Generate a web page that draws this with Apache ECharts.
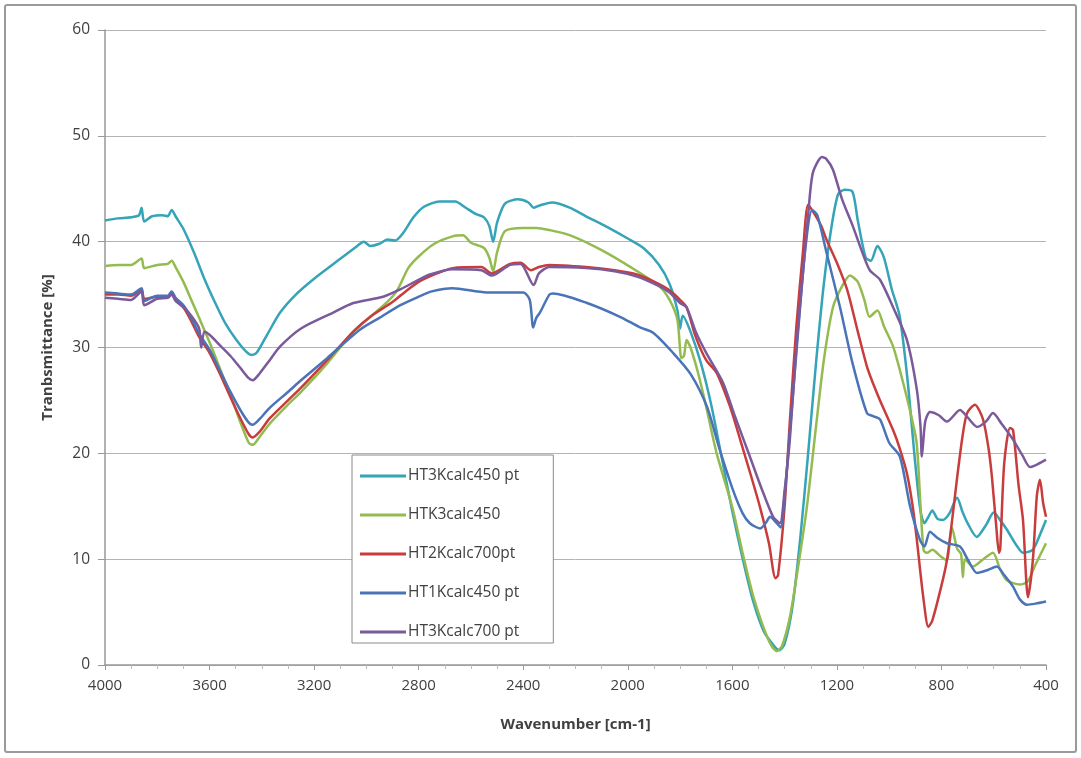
<!DOCTYPE html>
<html>
<head>
<meta charset="utf-8">
<script src="https://cdn.jsdelivr.net/npm/echarts@6/dist/echarts.min.js"></script>
<style>html,body{margin:0;padding:0;background:#fff;}#c{width:1081px;height:758px;}</style>
</head>
<body>
<div id="c"></div>
<script>
const seriesNames = ['HT3Kcalc450 pt', 'HTK3calc450', 'HT2Kcalc700pt', 'HT1Kcalc450 pt', 'HT3Kcalc700 pt'];
const xTicks = { min: 400, max: 4000, step: 400 };
const yTicks = { min: 0, max: 60, step: 10 };

const ht3k450 = [[4000,42.0],[3950,42.2],[3900,42.3],[3870,42.5],[3860,43.2],[3850,41.9],[3820,42.4],[3780,42.5],[3760,42.4],[3745,43.0],[3730,42.4],[3700,41.2],[3660,39.0],[3620,36.5],[3580,34.3],[3540,32.3],[3500,30.8],[3460,29.6],[3440,29.3],[3420,29.5],[3380,31.2],[3330,33.3],[3270,35.0],[3200,36.5],[3120,38.0],[3040,39.5],[3010,40.0],[2985,39.6],[2950,39.8],[2920,40.2],[2890,40.1],[2860,40.8],[2820,42.3],[2780,43.3],[2720,43.8],[2660,43.8],[2620,43.2],[2580,42.6],[2550,42.3],[2530,41.5],[2515,40.0],[2500,41.8],[2470,43.6],[2420,44.0],[2380,43.7],[2360,43.2],[2340,43.4],[2290,43.7],[2220,43.2],[2160,42.4],[2080,41.4],[2000,40.3],[1940,39.4],[1880,37.8],[1840,36.0],[1810,33.5],[1800,31.8],[1790,33.0],[1760,31.5],[1720,28.5],[1680,24.5],[1640,19.5],[1600,14.5],[1560,10.0],[1520,6.0],[1480,3.2],[1440,1.8],[1420,1.4],[1400,2.0],[1370,5.5],[1340,12.0],[1310,20.0],[1280,28.5],[1250,36.0],[1220,41.5],[1195,44.5],[1170,44.9],[1140,44.7],[1120,42.0],[1090,38.5],[1070,38.2],[1045,39.6],[1020,38.5],[990,35.5],[960,33.0],[930,27.0],[900,19.0],[880,14.5],[865,13.4],[850,14.0],[835,14.6],[815,13.8],[795,13.7],[770,14.3],[740,15.8],[720,14.5],[700,13.4],[665,12.1],[630,13.2],[600,14.4],[570,13.5],[550,12.8],[510,11.2],[488,10.6],[450,10.9],[420,12.5],[400,13.7]];

const htk3450 = [[4000,37.7],[3950,37.8],[3900,37.8],[3860,38.4],[3850,37.5],[3800,37.8],[3760,37.9],[3745,38.2],[3730,37.6],[3700,36.2],[3670,34.5],[3640,32.8],[3600,30.5],[3560,28.0],[3520,25.5],[3480,22.8],[3450,21.0],[3435,20.8],[3410,21.5],[3370,22.8],[3300,24.6],[3250,25.8],[3150,28.5],[3050,31.5],[2980,33.0],[2920,34.3],[2880,35.5],[2840,37.5],[2800,38.6],[2740,39.8],[2670,40.5],[2630,40.6],[2600,39.9],[2550,39.4],[2530,38.5],[2515,37.2],[2500,39.0],[2470,41.0],[2400,41.3],[2350,41.3],[2300,41.1],[2220,40.6],[2100,39.2],[1970,37.3],[1880,35.8],[1840,34.5],[1810,32.6],[1795,29.0],[1785,29.2],[1775,30.7],[1760,30.0],[1730,27.5],[1700,24.4],[1660,20.0],[1600,14.9],[1560,10.5],[1520,6.5],[1480,3.5],[1450,1.8],[1430,1.3],[1410,1.8],[1380,4.5],[1350,9.0],[1315,14.9],[1280,22.5],[1250,28.8],[1215,33.8],[1180,35.8],[1150,36.8],[1120,36.2],[1095,34.5],[1075,32.9],[1045,33.5],[1020,32.0],[985,30.1],[950,27.0],[920,24.0],[895,21.0],[880,15.0],[868,10.8],[855,10.6],[835,10.9],[800,10.2],[780,9.9],[760,13.0],[740,11.0],[725,10.5],[718,8.3],[710,10.0],[680,9.3],[640,10.0],[603,10.6],[575,9.0],[550,8.0],[500,7.6],[470,7.9],[440,9.5],[400,11.5]];

const ht2k700 = [[4000,35.0],[3950,35.0],[3900,34.9],[3860,35.4],[3850,34.6],[3800,34.8],[3760,34.8],[3745,35.2],[3730,34.6],[3700,33.8],[3670,32.5],[3640,31.0],[3600,29.5],[3560,27.5],[3520,25.3],[3480,23.2],[3450,21.8],[3435,21.5],[3410,22.0],[3370,23.3],[3300,25.0],[3250,26.2],[3150,28.8],[3050,31.5],[2980,33.0],[2900,34.3],[2850,35.3],[2800,36.2],[2730,37.0],[2670,37.5],[2560,37.6],[2520,37.0],[2500,37.2],[2450,37.9],[2410,38.0],[2370,37.3],[2340,37.6],[2300,37.8],[2160,37.6],[2050,37.3],[1965,36.9],[1880,36.0],[1840,35.4],[1800,34.5],[1775,33.8],[1740,31.0],[1700,28.8],[1660,27.6],[1610,24.5],[1570,21.3],[1530,18.0],[1494,14.9],[1460,11.5],[1435,8.2],[1425,8.5],[1400,15.0],[1380,23.0],[1355,32.0],[1330,39.0],[1310,43.5],[1290,42.8],[1260,41.5],[1240,40.2],[1200,38.0],[1160,35.4],[1120,31.5],[1085,28.2],[1060,26.5],[1035,25.0],[985,22.2],[960,20.5],[932,18.1],[910,15.0],[894,11.8],[870,6.5],[850,3.6],[835,4.2],[800,7.5],[779,9.9],[760,13.5],[741,17.5],[720,21.5],[702,23.8],[672,24.6],[641,23.2],[620,20.5],[607,17.8],[590,13.0],[580,10.6],[575,11.0],[560,19.0],[538,22.4],[526,22.2],[505,17.0],[488,13.7],[469,6.4],[450,10.0],[435,16.0],[423,17.5],[411,15.3],[400,14.0]];

const ht1k450 = [[4000,35.2],[3950,35.1],[3900,35.0],[3860,35.6],[3850,34.4],[3800,34.9],[3760,34.9],[3745,35.3],[3730,34.7],[3700,34.0],[3670,32.8],[3640,31.3],[3600,29.8],[3560,27.8],[3520,25.8],[3480,24.0],[3450,22.9],[3435,22.7],[3410,23.2],[3370,24.3],[3300,25.8],[3250,26.9],[3150,29.0],[3024,31.7],[2950,32.8],[2870,34.0],[2800,34.8],[2750,35.3],[2670,35.6],[2540,35.2],[2400,35.2],[2375,34.5],[2362,31.9],[2350,32.8],[2336,33.3],[2300,35.0],[2286,35.1],[2156,34.2],[2030,32.9],[1953,31.9],[1903,31.4],[1827,29.5],[1760,27.5],[1697,24.4],[1650,20.5],[1597,16.5],[1560,14.3],[1533,13.4],[1494,12.9],[1470,13.5],[1456,14.0],[1430,13.4],[1415,13.0],[1400,16.0],[1380,22.0],[1350,31.0],[1320,39.5],[1295,43.0],[1275,42.5],[1240,39.0],[1188,33.8],[1140,28.5],[1085,23.8],[1060,23.5],[1035,23.2],[1000,21.0],[959,19.7],[920,15.0],[882,11.8],[865,11.2],[844,12.6],[815,12.0],[779,11.5],[729,11.2],[700,10.0],[664,8.7],[620,9.0],[588,9.3],[560,8.5],[526,7.4],[500,6.2],[473,5.7],[440,5.8],[400,6.0]];

const ht3k700 = [[4000,34.7],[3950,34.6],[3900,34.5],[3860,35.3],[3850,34.0],[3800,34.6],[3760,34.7],[3745,35.0],[3730,34.4],[3700,33.8],[3670,33.0],[3640,31.8],[3632,30.0],[3620,31.5],[3600,31.2],[3560,30.2],[3520,29.2],[3480,28.0],[3450,27.1],[3435,26.9],[3410,27.5],[3370,28.8],[3330,30.1],[3250,31.8],[3127,33.3],[3050,34.2],[2936,34.8],[2870,35.5],[2800,36.4],[2757,36.9],[2670,37.4],[2560,37.3],[2520,36.8],[2500,37.0],[2450,37.8],[2410,37.9],[2360,35.9],[2340,37.0],[2300,37.6],[2160,37.5],[2050,37.2],[1965,36.7],[1880,35.8],[1840,35.2],[1800,34.2],[1775,33.8],[1740,31.5],[1700,29.5],[1636,26.7],[1590,23.5],[1533,19.7],[1490,16.8],[1444,14.0],[1418,13.4],[1400,16.5],[1380,21.3],[1355,30.0],[1330,37.0],[1310,42.5],[1292,46.5],[1257,48.0],[1240,47.8],[1215,46.8],[1180,44.0],[1138,41.4],[1100,38.8],[1074,37.3],[1035,36.4],[985,33.8],[932,30.7],[894,26.0],[880,22.5],[875,19.7],[862,23.0],[844,23.9],[810,23.6],[779,23.0],[729,24.1],[700,23.4],[664,22.5],[630,23.0],[603,23.8],[570,22.8],[526,21.3],[490,19.8],[461,18.7],[430,19.0],[400,19.4]];

const seriesData = [ht3k450, htk3450, ht2k700, ht1k450, ht3k700];
const colors = ['#35a3b8', '#94bb50', '#c83c3c', '#4a73b8', '#7a5a9a'];

const chart = echarts.init(document.getElementById('c'), null, { renderer: 'canvas' });
const font = 'Open Sans, Noto Sans, sans-serif';
chart.setOption({
  backgroundColor: '#ffffff',
  animation: false,
  color: colors,
  graphic: [{
    type: 'rect', silent: true, z: -1,
    shape: { x: 5, y: 5, width: 1071, height: 747, r: 2 },
    style: { fill: 'none', stroke: '#9a9a9a', lineWidth: 2 }
  }],
  grid: { left: 105, right: 35, top: 30, bottom: 93 },
  legend: {
    orient: 'vertical', left: 352, top: 455,
    data: seriesNames,
    icon: 'rect',
    backgroundColor: '#fff', borderColor: '#8a8a8a', borderWidth: 1,
    padding: [13, 34, 3, 8],
    itemWidth: 46, itemHeight: 3, itemGap: 23,
    textStyle: { fontFamily: font, fontSize: 15.5, color: '#404040', padding: [0, 0, 0, -3], height: 15, lineHeight: 15 }
  },
  xAxis: {
    type: 'value', inverse: true,
    min: xTicks.min, max: xTicks.max, interval: xTicks.step,
    name: 'Wavenumber [cm-1]', nameLocation: 'middle', nameGap: 52,
    nameTextStyle: { fontFamily: font, fontSize: 15, fontWeight: 'bold', color: '#404040' },
    axisLine: { show: true, lineStyle: { color: '#999', width: 1.5 } },
    axisTick: { show: true, length: 5, lineStyle: { color: '#999' } },
    minorTick: { show: true, splitNumber: 4, length: 4, lineStyle: { color: '#bbb' } },
    axisLabel: { fontFamily: font, fontSize: 15, color: '#404040', margin: 13, formatter: v => String(v) },
    splitLine: { show: false }
  },
  yAxis: {
    type: 'value',
    min: yTicks.min, max: yTicks.max, interval: yTicks.step,
    name: 'Tranbsmittance [%]', nameLocation: 'middle', nameGap: 50,
    nameTextStyle: { fontFamily: font, fontSize: 15, fontWeight: 'bold', color: '#404040' },
    axisLine: { show: true, lineStyle: { color: '#999', width: 1.5 } },
    axisTick: { show: true, length: 7, lineStyle: { color: '#999' } },
    axisLabel: { fontFamily: font, fontSize: 15.5, color: '#404040', margin: 15 },
    splitLine: { show: true, lineStyle: { color: '#b4b4b4', width: 1 } }
  },
  series: seriesNames.map((n, i) => ({
    name: n, type: 'line', data: seriesData[i],
    symbol: 'none', smooth: 0.25,
    lineStyle: { width: 2.5, color: colors[i] },
    itemStyle: { color: colors[i] }
  }))
});
</script>
</body>
</html>
